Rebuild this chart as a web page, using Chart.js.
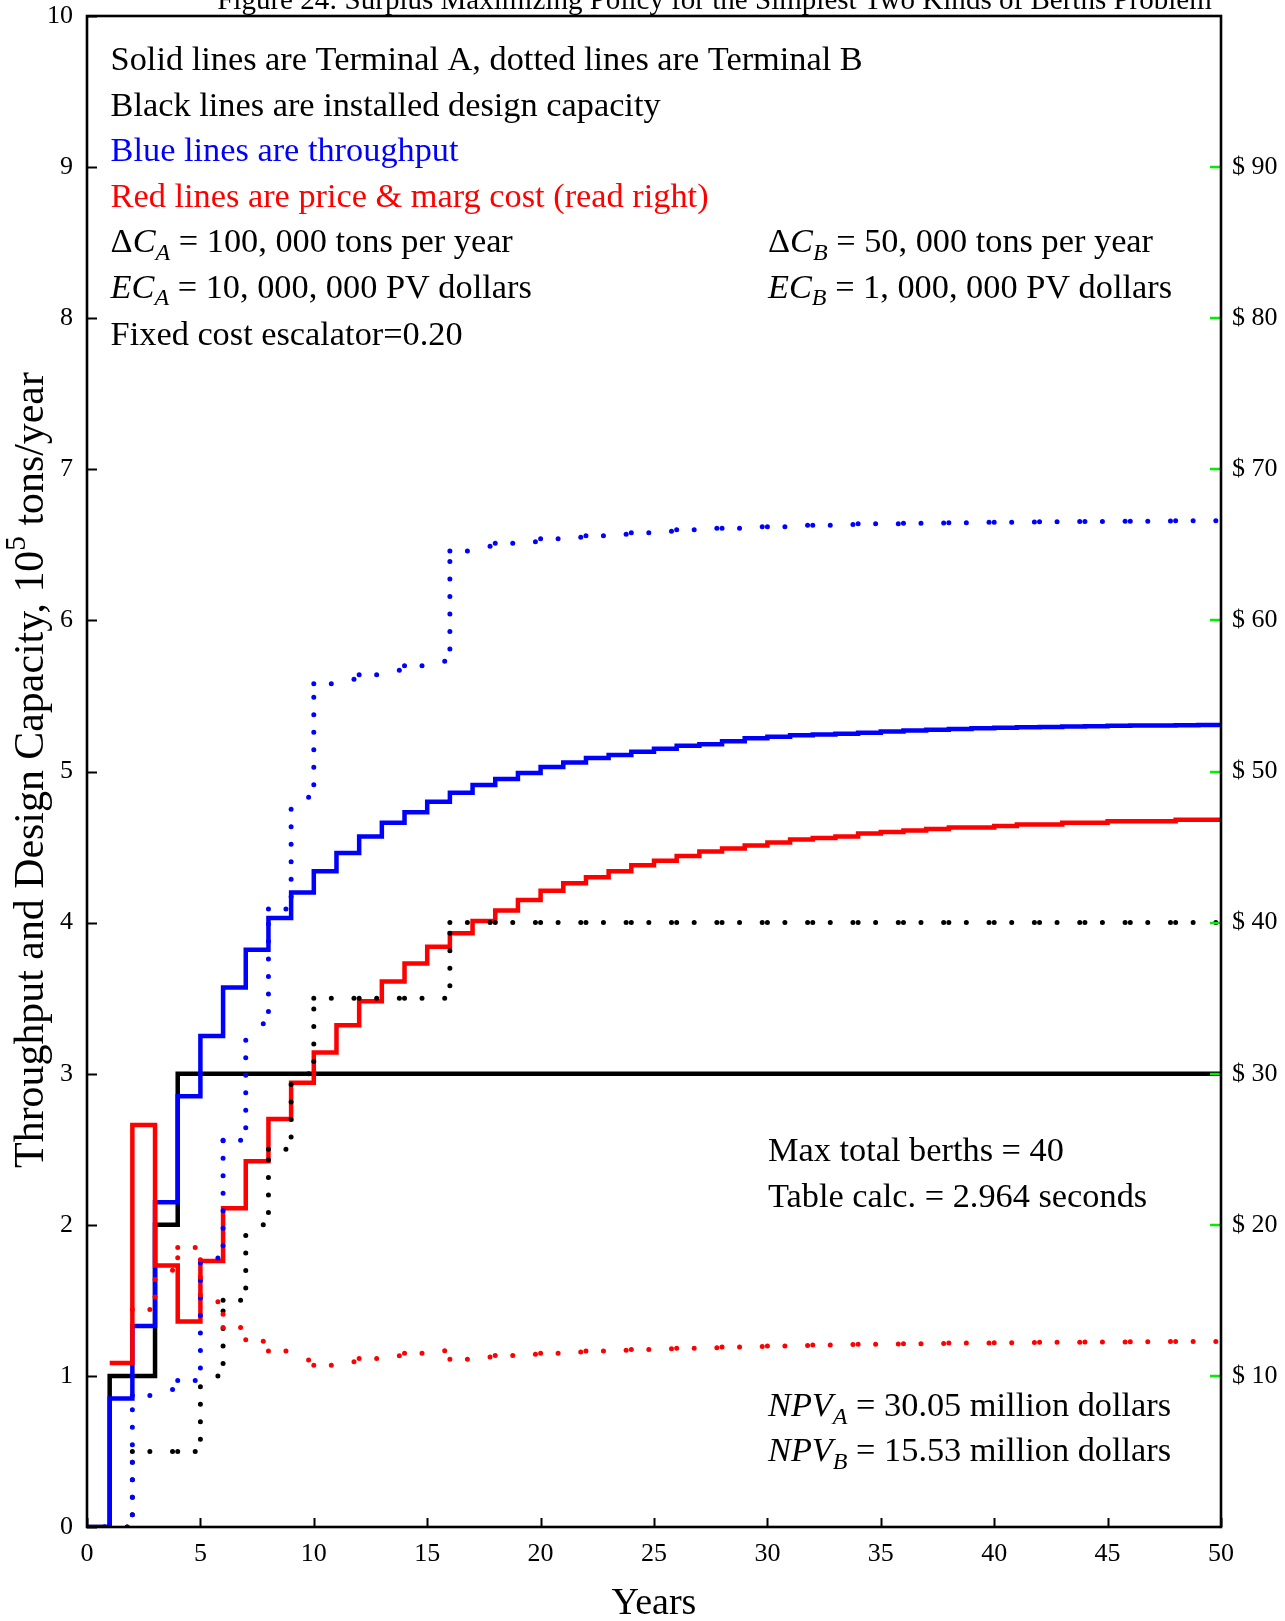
<!DOCTYPE html>
<html>
<head>
<meta charset="utf-8">
<script src="https://cdn.jsdelivr.net/npm/chart.js@4.4.1/dist/chart.umd.min.js"></script>
<style>
html, body { margin: 0; padding: 0; background: #ffffff; }
canvas { display: block; }
</style>
</head>
<body>
<canvas id="chart" width="1285" height="1621"></canvas>
<script>
// ---------------- DATA ----------------
// Years 0..49: each value holds for [year, year+1)
const years = [0,1,2,3,4,5,6,7,8,9,10,11,12,13,14,15,16,17,18,19,20,21,22,23,24,25,26,27,28,29,30,31,32,33,34,35,36,37,38,39,40,41,42,43,44,45,46,47,48,49];
const endYear = 50;

// Terminal A installed design capacity (10^5 tons/year) - black solid
const capacityA = [0,1,1,2,3,3,3,3,3,3, 3,3,3,3,3,3,3,3,3,3, 3,3,3,3,3,3,3,3,3,3, 3,3,3,3,3,3,3,3,3,3, 3,3,3,3,3,3,3,3,3,3];
// Terminal B installed design capacity - black dotted
const capacityB = [0,0,0.5,0.5,0.5,1.0,1.5,2.0,2.5,3.0, 3.5,3.5,3.5,3.5,3.5,3.5,4,4,4,4, 4,4,4,4,4,4,4,4,4,4, 4,4,4,4,4,4,4,4,4,4, 4,4,4,4,4,4,4,4,4,4];
// Terminal A throughput - blue solid
const throughputA = [0,0.85,1.33,2.15,2.85,3.25,3.57,3.82,4.03,4.20, 4.34,4.46,4.57,4.66,4.73,4.80,4.86,4.91,4.95,4.99, 5.03,5.06,5.09,5.11,5.13,5.15,5.17,5.18,5.20,5.22, 5.23,5.24,5.245,5.25,5.257,5.264,5.271,5.277,5.282,5.286, 5.29,5.293,5.295,5.297,5.30,5.302,5.304,5.305,5.306,5.307];
// Terminal B throughput - blue dotted
const throughputB = [0,0,0.87,0.91,0.97,1.78,2.56,3.33,4.09,4.83, 5.58,5.61,5.64,5.67,5.70,5.73,6.46,6.49,6.51,6.52, 6.54,6.55,6.56,6.57,6.58,6.59,6.60,6.61,6.61,6.62, 6.62,6.63,6.63,6.635,6.64,6.64,6.643,6.645,6.647,6.65, 6.65,6.652,6.653,6.655,6.655,6.656,6.657,6.658,6.659,6.66];
// Terminal A price & marginal cost ($, right axis) - red solid
const priceA = [null,10.85,26.6,17.3,13.6,17.6,21.1,24.2,27.0,29.4, 31.4,33.2,34.8,36.1,37.3,38.4,39.3,40.1,40.8,41.5, 42.1,42.6,43.0,43.4,43.8,44.1,44.4,44.7,44.9,45.1, 45.3,45.5,45.6,45.7,45.9,46.0,46.1,46.2,46.3,46.3, 46.4,46.5,46.5,46.6,46.6,46.7,46.7,46.7,46.8,46.8];
// Terminal B price & marginal cost ($, right axis) - red dotted
const priceB = [null,null,14.4,17.0,18.5,14.9,13.2,12.3,11.65,11.05, 10.7,10.93,11.15,11.33,11.5,11.66,11.1,11.25,11.35,11.44, 11.5,11.59,11.65,11.7,11.75,11.79,11.83,11.87,11.91,11.95, 11.98,12.01,12.04,12.07,12.09,12.11,12.13,12.15,12.17,12.18, 12.20,12.21,12.22,12.23,12.24,12.25,12.26,12.27,12.27,12.28];

// Tick labels
const xTickValues = [0,5,10,15,20,25,30,35,40,45,50];
const xTickLabels = ['0','5','10','15','20','25','30','35','40','45','50'];
const yTickValues = [0,1,2,3,4,5,6,7,8,9,10];
const yTickLabels = ['0','1','2','3','4','5','6','7','8','9','10'];
const priceTickValues = [10,20,30,40,50,60,70,80,90];
const priceTickLabels = ['$ 10','$ 20','$ 30','$ 40','$ 50','$ 60','$ 70','$ 80','$ 90'];

// ---------------- STYLE ----------------
const FONT = '"Liberation Serif", "Times New Roman", serif';
const BLUE = '#0000ff', RED = '#ff0000', BLACK = '#000000', GREEN = '#00ee00';

function toPoints(values) {
  const pts = [];
  let last = null;
  values.forEach((v, i) => {
    if (v !== null && v !== undefined) { pts.push({x: years[i], y: v}); last = v; }
  });
  if (last !== null) pts.push({x: endYear, y: last});
  return pts;
}

function lineDs(label, values, color, dotted, axis, order) {
  const ds = {
    label: label,
    data: toPoints(values),
    yAxisID: axis,
    borderColor: color,
    backgroundColor: color,
    borderWidth: dotted ? 5 : 4.5,
    borderDash: dotted ? [0, 17.5] : [],
    borderCapStyle: dotted ? 'round' : 'butt',
    borderJoinStyle: 'miter',
    stepped: 'before',
    pointRadius: 0,
    fill: false,
    tension: 0,
    order: order
  };
  if (dotted) {
    // restart the dot pattern at every yearly step (as the source plotter does)
    ds.segment = { borderDashOffset: c => (c.p0DataIndex % 2 ? 0.0001 : 0) };
  }
  return ds;
}

// ---------------- TEXT HELPERS ----------------
function fontStr(size, italic) {
  return (italic ? 'italic ' : '') + size.toFixed(2) + 'px ' + FONT;
}
function runsWidth(ctx, runs, size) {
  let w = 0;
  runs.forEach(r => {
    const s = (r.sub || r.sup) ? size * 0.7 : size;
    ctx.font = fontStr(s, r.it);
    w += ctx.measureText(r.t).width;
  });
  return w;
}
function drawRuns(ctx, runs, x, y, size, color, align) {
  const w = runsWidth(ctx, runs, size);
  let cx = x;
  if (align === 'center') cx = x - w / 2;
  ctx.fillStyle = color;
  ctx.textBaseline = 'alphabetic';
  ctx.textAlign = 'left';
  runs.forEach(r => {
    const s = (r.sub || r.sup) ? size * 0.7 : size;
    ctx.font = fontStr(s, r.it);
    let dy = 0;
    if (r.sub) dy = size * 0.22;
    if (r.sup) dy = -size * 0.42;
    ctx.fillText(r.t, cx, y + dy);
    cx += ctx.measureText(r.t).width;
  });
}
function fitSize(ctx, runs, target) {
  const w = runsWidth(ctx, runs, 100);
  return 100 * target / w;
}

const titleRuns = [{t: 'Figure 24: Surplus Maximizing Policy for the Simplest Two Kinds of Berths Problem'}];
const yTitleRuns = [{t: 'Throughput and Design Capacity, 10'}, {t: '5', sup: true}, {t: ' tons/year'}];
const xTitleRuns = [{t: 'Years'}];

const noteLines = [
  {runs: [{t: 'Solid lines are Terminal A, dotted lines are Terminal B'}], color: BLACK, x: 110.6, y: 70},
  {runs: [{t: 'Black lines are installed design capacity'}], color: BLACK, x: 110.6, y: 115.5},
  {runs: [{t: 'Blue lines are throughput'}], color: BLUE, x: 110.6, y: 161},
  {runs: [{t: 'Red lines are price & marg cost (read right)'}], color: RED, x: 110.6, y: 206.5},
  {runs: [{t: 'Δ'}, {t: 'C', it: true}, {t: 'A', it: true, sub: true}, {t: ' = 100, 000 tons per year'}], color: BLACK, x: 110.6, y: 252},
  {runs: [{t: 'Δ'}, {t: 'C', it: true}, {t: 'B', it: true, sub: true}, {t: ' = 50, 000 tons per year'}], color: BLACK, x: 768, y: 252},
  {runs: [{t: 'EC', it: true}, {t: 'A', it: true, sub: true}, {t: ' = 10, 000, 000 PV dollars'}], color: BLACK, x: 110.6, y: 297.5},
  {runs: [{t: 'EC', it: true}, {t: 'B', it: true, sub: true}, {t: ' = 1, 000, 000 PV dollars'}], color: BLACK, x: 768, y: 297.5},
  {runs: [{t: 'Fixed cost escalator=0.20'}], color: BLACK, x: 110.6, y: 345},
  {runs: [{t: 'Max total berths = 40'}], color: BLACK, x: 768, y: 1161},
  {runs: [{t: 'Table calc. = 2.964 seconds'}], color: BLACK, x: 768, y: 1207},
  {runs: [{t: 'NPV', it: true}, {t: 'A', it: true, sub: true}, {t: ' = 30.05 million dollars'}], color: BLACK, x: 768, y: 1416},
  {runs: [{t: 'NPV', it: true}, {t: 'B', it: true, sub: true}, {t: ' = 15.53 million dollars'}], color: BLACK, x: 768, y: 1461}
];

const decorPlugin = {
  id: 'decor',
  afterDraw(chart) {
    const ctx = chart.ctx;
    const a = chart.chartArea;
    const sx = chart.scales.x, sy = chart.scales.y, sy2 = chart.scales.y2;
    ctx.save();
    // inward tick marks
    ctx.strokeStyle = BLACK;
    ctx.lineWidth = 2;
    yTickValues.forEach(v => {
      const py = Math.round(sy.getPixelForValue(v)) + 0.5;
      ctx.beginPath(); ctx.moveTo(a.left, py); ctx.lineTo(a.left + 10, py); ctx.stroke();
    });
    xTickValues.forEach(v => {
      const px = Math.round(sx.getPixelForValue(v)) + 0.5;
      ctx.beginPath(); ctx.moveTo(px, a.bottom); ctx.lineTo(px, a.bottom - 9); ctx.stroke();
    });
    ctx.strokeStyle = GREEN;
    ctx.lineWidth = 2.5;
    priceTickValues.forEach(v => {
      const py = Math.round(sy2.getPixelForValue(v));
      ctx.beginPath(); ctx.moveTo(a.right, py); ctx.lineTo(a.right - 11, py); ctx.stroke();
    });
    // frame
    ctx.strokeStyle = BLACK;
    ctx.lineWidth = 2.6;
    ctx.strokeRect(a.left, a.top, a.right - a.left, a.bottom - a.top);

    // title (partially off the top edge, as in the source)
    const tSize = fitSize(ctx, titleRuns, 995);
    drawRuns(ctx, titleRuns, 714.5, 9, tSize, BLACK, 'center');

    // annotation text
    const nSize = fitSize(ctx, noteLines[0].runs, 752.6);
    noteLines.forEach(l => drawRuns(ctx, l.runs, l.x, l.y, nSize, l.color, 'left'));

    // axis titles
    const yS = fitSize(ctx, yTitleRuns, 796);
    ctx.save();
    ctx.translate(43, 770);
    ctx.rotate(-Math.PI / 2);
    drawRuns(ctx, yTitleRuns, 0, 0, yS, BLACK, 'center');
    ctx.restore();
    drawRuns(ctx, xTitleRuns, (a.left + a.right) / 2, 1614, 38, BLACK, 'center');
    ctx.restore();
  }
};

const tickFont = {family: FONT, size: 26};
function noPad(s) { s.paddingTop = 0; s.paddingBottom = 0; s.paddingLeft = 0; s.paddingRight = 0; }

const chart = new Chart(document.getElementById('chart'), {
  type: 'line',
  data: {
    datasets: [
      lineDs('Terminal B price & marg cost', priceB, RED, true, 'y2', 0),
      lineDs('Terminal B throughput', throughputB, BLUE, true, 'y', 1),
      lineDs('Terminal B design capacity', capacityB, BLACK, true, 'y', 2),
      lineDs('Terminal A price & marg cost', priceA, RED, false, 'y2', 3),
      lineDs('Terminal A throughput', throughputA, BLUE, false, 'y', 4),
      lineDs('Terminal A design capacity', capacityA, BLACK, false, 'y', 5)
    ]
  },
  options: {
    responsive: false,
    animation: false,
    devicePixelRatio: 1,
    layout: {padding: {top: 16, left: 0, right: 0, bottom: 0}},
    plugins: {legend: {display: false}, tooltip: {enabled: false}, title: {display: false}},
    scales: {
      x: {
        type: 'linear', min: 0, max: 50, position: 'bottom',
        grid: {display: false, drawTicks: false}, border: {display: false},
        ticks: {
          stepSize: 5, padding: 12, color: BLACK, font: tickFont, maxRotation: 0, autoSkip: false,
          callback: v => { const i = xTickValues.indexOf(v); return i >= 0 ? xTickLabels[i] : null; }
        },
        afterFit: s => { s.height = 94; noPad(s); }
      },
      y: {
        type: 'linear', min: 0, max: 10, position: 'left',
        grid: {display: false, drawTicks: false}, border: {display: false},
        ticks: {
          stepSize: 1, padding: 14, color: BLACK, font: tickFont, autoSkip: false,
          callback: v => { const i = yTickValues.indexOf(v); return i >= 0 ? yTickLabels[i] : null; }
        },
        afterFit: s => { s.width = 87; noPad(s); }
      },
      y2: {
        type: 'linear', min: 0, max: 100, position: 'right',
        grid: {display: false, drawTicks: false}, border: {display: false},
        ticks: {
          stepSize: 10, padding: 11, color: BLACK, font: tickFont, autoSkip: false,
          callback: v => { const i = priceTickValues.indexOf(v); return i >= 0 ? priceTickLabels[i] : null; }
        },
        afterFit: s => { s.width = 64; noPad(s); }
      }
    }
  },
  plugins: [decorPlugin]
});
</script>
</body>
</html>
